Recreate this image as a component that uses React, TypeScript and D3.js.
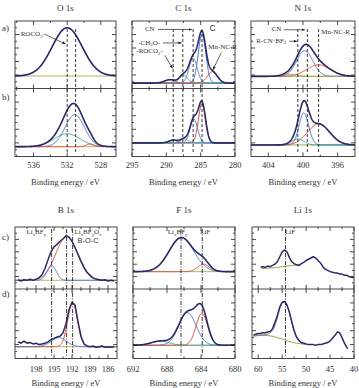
import * as d3 from "d3";

const NAVY = "#2b2a68";
const BLUE = "#4a72c4";
const STEEL = "#5b86c9";
const TEAL = "#3aa293";
const RED = "#e2452f";
const OLIVE = "#a6a43f";
const GREEN = "#7da23c";
const ORANGE = "#d98a3c";
const INK = "#333";

const SERIF = "'Liberation Serif', 'Times New Roman', serif";
const SANS = "'Liberation Sans', Arial, sans-serif";

// binding-energy axes
const oTicks = [536, 532, 528];
const cTicks = [295, 290, 285, 280];
const nTicks = [404, 400, 396];
const bTicks = [198, 195, 192, 189, 186];
const fTicks = [692, 688, 684, 680];
const liTicks = [60, 55, 50, 45, 40];

// reference energies (dashed / dash-dot guides)
const oRefs = [532.0, 531.0];
const cRefs = [289.0, 287.6, 286.1, 284.8];
const nRefs = [400.6, 399.5, 398.2];
const bRefs = [195.4, 192.9, 191.9];
const fRefs = [686.35, 683.85];
const liRefs = [54.3];

// fitted components: [centre / eV, height, FWHM / eV], heights in fractions of the sub-panel
const oaPeaks = [[532.0, 0.715, 4.2]];
const obPeaks = [[531.1, 0.47, 2.7], [532.0, 0.19, 3.6], [529.3, 0.04, 1.0]];
const caPeaks = [[284.8, 0.72, 1.3], [286.1, 0.37, 1.4], [287.5, 0.12, 1.4], [289.5, 0.05, 1.8], [283.3, 0.17, 1.7]];
const cbPeaks = [[284.8, 0.58, 1.2], [286.0, 0.35, 1.3], [287.4, 0.06, 1.3], [289.0, 0.04, 1.5]];
const naPeaks = [[399.8, 0.38, 2.2], [398.2, 0.17, 3.2], [401.5, 0.03, 2.0]];
const nbPeaks = [[399.9, 0.47, 1.3], [398.2, 0.31, 3.0], [400.6, 0.09, 1.6]];
const bcPeaks = [[192.9, 0.7, 4.3], [195.4, 0.24, 1.8]];
const bdPeaks = [[191.9, 0.63, 1.9], [194.2, 0.13, 3.0]];
const fcPeaks = [[686.3, 0.55, 3.4], [683.7, 0.12, 1.6]];
const fdPeaks = [[685.6, 0.47, 2.4], [683.9, 0.46, 1.6], [688.8, 0.06, 2.5]];

// Shirley-type backgrounds (flat levels)
const oaBase = 0.185;
const obBase = 0.145;
const caBase = 0.08;
const cbBase = 0.2;
const naBase = 0.18;
const nbBase = 0.17;
const bcBase = 0.14;
const bdBase = 0.17;
const fcBase = 0.28;
const fdBase = 0.19;

// measured spectra: [binding energy / eV, intensity]
const bcMeasured = [
  [201, 0.15], [200.5, 0.13], [200, 0.15], [199.5, 0.14], [199, 0.16], [198.5, 0.14], [198, 0.16],
  [197.5, 0.18], [197, 0.23], [196.5, 0.33], [196, 0.47], [195.5, 0.6], [195, 0.68], [194.5, 0.72],
  [194, 0.77], [193.5, 0.81], [193, 0.86], [192.5, 0.84], [192, 0.77], [191.5, 0.67], [191, 0.56],
  [190.5, 0.45], [190, 0.35], [189.5, 0.27], [189, 0.22], [188.5, 0.18], [188, 0.16], [187.5, 0.15],
  [187, 0.14], [186.5, 0.15], [186, 0.13], [185.5, 0.14], [185, 0.13],
];
const bdMeasured = [
  [201, 0.24], [200.5, 0.22], [200, 0.25], [199.5, 0.22], [199, 0.23], [198.5, 0.21], [198, 0.22],
  [197.5, 0.2], [197, 0.21], [196.5, 0.22], [196, 0.24], [195.5, 0.27], [195, 0.29], [194.5, 0.31],
  [194, 0.32], [193.5, 0.37], [193, 0.5], [192.5, 0.7], [192, 0.81], [191.5, 0.77], [191, 0.53],
  [190.5, 0.32], [190, 0.21], [189.5, 0.18], [189, 0.17], [188.5, 0.18], [188, 0.16], [187.5, 0.17],
  [187, 0.18], [186.5, 0.16], [186, 0.17], [185.5, 0.16], [185, 0.17],
];
const liCMeasured = [
  [59.5, 0.35], [59, 0.36], [58.5, 0.35], [58, 0.37], [57.5, 0.36], [57, 0.38], [56.5, 0.4], [56, 0.44],
  [55.5, 0.52], [55, 0.6], [54.5, 0.63], [54, 0.6], [53.5, 0.51], [53, 0.44], [52.5, 0.41], [52, 0.39],
  [51.5, 0.38], [51, 0.41], [50.5, 0.43], [50, 0.46], [49.5, 0.48], [49, 0.5], [48.5, 0.52], [48, 0.5],
  [47.5, 0.46], [47, 0.42], [46.5, 0.36], [46, 0.32], [45.5, 0.3], [45, 0.28], [44.5, 0.27], [44, 0.26],
  [43.5, 0.26], [43, 0.24], [42.5, 0.24], [42, 0.22], [41.5, 0.22], [41, 0.2], [40.5, 0.19], [40, 0.18],
];
const liCBackground = [
  [59.3, 0.33], [58, 0.335], [57, 0.34], [56, 0.35], [55, 0.36], [54, 0.37], [53, 0.38], [52, 0.385], [51.5, 0.39],
];
const liDMeasured = [
  [61, 0.34], [60.5, 0.35], [60, 0.36], [59.5, 0.36], [59, 0.37], [58.5, 0.37], [58, 0.38], [57.5, 0.39],
  [57, 0.43], [56.5, 0.52], [56, 0.62], [55.5, 0.74], [55, 0.81], [54.5, 0.82], [54, 0.77], [53.5, 0.67],
  [53, 0.53], [52.5, 0.4], [52, 0.31], [51.5, 0.26], [51, 0.23], [50.5, 0.22], [50, 0.21], [49.5, 0.2],
  [49, 0.2], [48.5, 0.2], [48, 0.19], [47.5, 0.2], [47, 0.2], [46.5, 0.21], [46, 0.22], [45.5, 0.23],
  [45, 0.25], [44.5, 0.29], [44, 0.33], [43.5, 0.38], [43, 0.37], [42.5, 0.3], [42, 0.22], [41.5, 0.16], [41.3, 0.14],
];
const liDFit = [
  [61, 0.32], [60, 0.33], [59, 0.34], [58, 0.35], [57.5, 0.37], [57, 0.4], [56.5, 0.47], [56, 0.58],
  [55.5, 0.72], [55, 0.8], [54.5, 0.82], [54, 0.77], [53.5, 0.66], [53, 0.52], [52.5, 0.39], [52, 0.3],
  [51.5, 0.25], [51, 0.22],
];
const liDBackground = [
  [61, 0.335], [60, 0.335], [59, 0.333], [58, 0.33], [57, 0.32], [56, 0.3], [55, 0.28], [54, 0.255],
  [53, 0.235], [52, 0.22], [51, 0.21], [50.2, 0.205],
];

type Part = string | [string];
type Note = { parts: Part[]; e: number; f: number; anchor?: string; sans?: boolean; size?: number };
type Arrow = number[];
type Sub = {
  base?: number;
  baseColor?: string;
  peaks?: number[][];
  colors?: string[];
  measured?: number[][];
  background?: number[][];
  fit?: number[][];
};
type Col = {
  id: string;
  title: string;
  left: number;
  right: number;
  domain: [number, number];
  ticks: number[];
  refs: number[];
  dash: string;
  top: Sub;
  bottom: Sub;
  notes?: Note[];
  arrows?: Arrow[];
};
type Row = {
  top: number; mid: number; bot: number; tickY: number; titleY: number; axisY: number;
  refTop: number; refBot: number; labels: [string, number][];
};

const rowTop: Row = {
  top: 21, mid: 88.5, bot: 156.5, tickY: 167.5, titleY: 11, axisY: 184.5, refTop: 29, refBot: 154,
  labels: [["a)", 31], ["b)", 100]],
};
const rowBottom: Row = {
  top: 227, mid: 289, bot: 358.5, tickY: 371.5, titleY: 213, axisY: 386, refTop: 229, refBot: 356,
  labels: [["c)", 240], ["d)", 297]],
};

const REF_DASH = "3,2";
const REF_DASHDOT = "4,1.5,1,1.5";

const topCols: Col[] = [
  {
    id: "o", title: "O 1s", left: 15, right: 116, domain: [538.2, 526.2], ticks: oTicks, refs: oRefs, dash: REF_DASH,
    top: { base: oaBase, baseColor: OLIVE, peaks: oaPeaks, colors: [BLUE] },
    bottom: { base: obBase, baseColor: ORANGE, peaks: obPeaks, colors: [BLUE, TEAL, RED] },
    notes: [{ parts: ["-ROCO", ["2"], "-"], e: 537.8, f: 0.775 }],
    arrows: [[534.6, 0.8, 532.2, 0.66]],
  },
  {
    id: "c", title: "C 1s", left: 132, right: 235, domain: [295, 280], ticks: cTicks, refs: cRefs, dash: REF_DASH,
    top: { base: caBase, baseColor: GREEN, peaks: caPeaks, colors: [BLUE, STEEL, TEAL, STEEL, RED] },
    bottom: { base: cbBase, baseColor: GREEN, peaks: cbPeaks, colors: [RED, BLUE, TEAL, STEEL] },
    notes: [
      { parts: ["CN"], e: 291.7, f: 0.85, anchor: "end" },
      { parts: ["C"], e: 283.7, f: 0.855, sans: true, size: 8.5 },
      { parts: ["-CH", ["2"], "O-"], e: 290.9, f: 0.65, anchor: "end" },
      { parts: ["-ROCO", ["2"], "-"], e: 290.5, f: 0.52, anchor: "end" },
      { parts: ["Mn-NC-R"], e: 283.9, f: 0.585 },
    ],
    arrows: [
      [291.2, 0.875, 286.3, 0.875],
      [290.5, 0.675, 287.8, 0.675],
      [290.2, 0.49, 289.1, 0.3],
      [282.0, 0.53, 283.2, 0.28],
    ],
  },
  {
    id: "n", title: "N 1s", left: 251, right: 355, domain: [406, 394], ticks: nTicks, refs: nRefs, dash: REF_DASH,
    top: { base: naBase, baseColor: GREEN, peaks: naPeaks, colors: [BLUE, RED, OLIVE] },
    bottom: { base: nbBase, baseColor: GREEN, peaks: nbPeaks, colors: [BLUE, RED, TEAL] },
    notes: [
      { parts: ["CN"], e: 402.5, f: 0.85, anchor: "end" },
      { parts: ["R-CN·BF", ["3"]], e: 405.4, f: 0.68 },
      { parts: ["Mn-NC-R"], e: 397.9, f: 0.81 },
    ],
    arrows: [
      [402.2, 0.87, 399.8, 0.87],
      [401.6, 0.7, 400.7, 0.7],
    ],
  },
];

const bottomCols: Col[] = [
  {
    id: "b", title: "B 1s", left: 15, right: 117, domain: [201.5, 184.5], ticks: bTicks, refs: bRefs, dash: REF_DASHDOT,
    top: { base: bcBase, baseColor: OLIVE, peaks: bcPeaks, colors: [RED, BLUE], measured: bcMeasured },
    bottom: { base: bdBase, baseColor: OLIVE, peaks: bdPeaks, colors: [RED, BLUE], measured: bdMeasured },
    notes: [
      { parts: ["Li", ["x"], "BF", ["y"]], e: 199.6, f: 0.89 },
      { parts: ["Li", ["x"], "BF", ["y"], "O", ["z"]], e: 191.6, f: 0.89 },
      { parts: ["B-O-C"], e: 191.1, f: 0.75, sans: true, size: 7.5 },
    ],
  },
  {
    id: "f", title: "F 1s", left: 133, right: 235, domain: [692, 680], ticks: fTicks, refs: fRefs, dash: REF_DASHDOT,
    top: { base: fcBase, baseColor: GREEN, peaks: fcPeaks, colors: [BLUE, RED] },
    bottom: { base: fdBase, baseColor: GREEN, peaks: fdPeaks, colors: [BLUE, RED, TEAL] },
    notes: [
      { parts: ["Li", ["x"], "BF", ["y"]], e: 687.9, f: 0.89 },
      { parts: ["LiF"], e: 684.1, f: 0.89 },
    ],
  },
  {
    id: "li", title: "Li 1s", left: 252, right: 354, domain: [61.3, 40], ticks: liTicks, refs: liRefs, dash: REF_DASHDOT,
    top: { measured: liCMeasured, background: liCBackground },
    bottom: { measured: liDMeasured, fit: liDFit, background: liDBackground },
    notes: [{ parts: ["LiF"], e: 54.4, f: 0.89 }],
  },
];

const FOUR_LN2 = 4 * Math.LN2;
const gauss = (e: number, p: number[]) => p[2] > 0 ? p[1] * Math.exp(-FOUR_LN2 * ((e - p[0]) / p[2]) ** 2) : 0;

function RichText({ parts, x, y, anchor = "start", family = SERIF, size = 7 }: any) {
  let low = false;
  return (
    <text x={x} y={y} textAnchor={anchor} fontFamily={family} fontSize={size} fill={INK}>
      {parts.map((p: Part, i: number) => {
        if (Array.isArray(p)) {
          const el = <tspan key={i} dy={low ? 0 : 1.8} fontSize={size * 0.7}>{p[0]}</tspan>;
          low = true;
          return el;
        }
        const el = <tspan key={i} dy={low ? -1.8 : 0}>{p}</tspan>;
        low = false;
        return el;
      })}
    </text>
  );
}

function minorTicks(ticks: number[], domain: [number, number]) {
  const step = ticks[1] - ticks[0];
  const lo = Math.min(...domain);
  const hi = Math.max(...domain);
  const out: number[] = [];
  for (let k = -6; k <= ticks.length * 2 + 6; k++) {
    const v = ticks[0] + (k * step) / 2;
    if (k % 2 !== 0 && v > lo + 0.05 && v < hi - 0.05) out.push(v);
  }
  return out;
}

function SubPlot({ sub, x, y, domain, clip }: any) {
  const line = d3.line<number[]>().x((d) => x(d[0])).y((d) => y(d[1]));
  const n = 400;
  const grid = d3.range(n + 1).map((i) => domain[0] + ((domain[1] - domain[0]) * i) / n);
  const base = sub.base ?? 0;
  const peaks: number[][] = sub.peaks ?? [];
  const envelope = grid.map((e) => [e, base + d3.sum(peaks, (p) => gauss(e, p))]);
  return (
    <g clipPath={`url(#${clip})`} fill="none" strokeLinejoin="round">
      {sub.baseColor && (
        <path d={line(grid.map((e) => [e, base])) ?? ""} stroke={sub.baseColor} strokeWidth={1} />
      )}
      {sub.background && <path d={line(sub.background) ?? ""} stroke={OLIVE} strokeWidth={1} />}
      {peaks.map((p, i) => (
        <path key={i} d={line(grid.map((e) => [e, base + gauss(e, p)])) ?? ""} stroke={sub.colors[i]} strokeWidth={1} />
      ))}
      {sub.fit && <path d={line(sub.fit) ?? ""} stroke="#6a6a9e" strokeWidth={0.8} />}
      {sub.measured ? (
        <path d={line(sub.measured) ?? ""} stroke={NAVY} strokeWidth={1.5} />
      ) : (
        peaks.length > 0 && <path d={line(envelope) ?? ""} stroke={NAVY} strokeWidth={1.6} />
      )}
    </g>
  );
}

function Column({ col, row }: { col: Col; row: Row }) {
  const x = d3.scaleLinear().domain(col.domain).range([col.left, col.right]);
  const yTop = d3.scaleLinear().domain([0, 1]).range([row.mid, row.top]);
  const yBot = d3.scaleLinear().domain([0, 1]).range([row.bot, row.mid]);
  const minors = minorTicks(col.ticks, col.domain);
  const yTicks = d3.range(1, 10).map((k) => k / 10);
  const edges: [number, number][] = [[row.top, 1], [row.mid, -1], [row.mid, 1], [row.bot, -1]];
  const cx = (col.left + col.right) / 2;
  return (
    <g>
      <defs>
        <clipPath id={`${col.id}-a`}>
          <rect x={col.left} y={row.top} width={col.right - col.left} height={row.mid - row.top} />
        </clipPath>
        <clipPath id={`${col.id}-b`}>
          <rect x={col.left} y={row.mid} width={col.right - col.left} height={row.bot - row.mid} />
        </clipPath>
      </defs>
      <text x={cx} y={row.titleY} textAnchor="middle" fontFamily={SERIF} fontSize={9} fill={INK}>{col.title}</text>

      <SubPlot sub={col.top} x={x} y={yTop} domain={col.domain} clip={`${col.id}-a`} />
      <SubPlot sub={col.bottom} x={x} y={yBot} domain={col.domain} clip={`${col.id}-b`} />

      {/* guide lines at reference binding energies */}
      {col.refs.map((e) => (
        <line key={e} x1={x(e)} x2={x(e)} y1={row.refTop} y2={row.refBot} stroke="#222" strokeWidth={0.9} strokeDasharray={col.dash} />
      ))}

      {/* frame and ticks */}
      <g stroke={INK} strokeWidth={0.9}>
        <rect x={col.left} y={row.top} width={col.right - col.left} height={row.bot - row.top} fill="none" />
        <line x1={col.left} x2={col.right} y1={row.mid} y2={row.mid} />
        {edges.map(([yy, dir], j) => (
          <g key={j}>
            {col.ticks.map((t) => <line key={t} x1={x(t)} x2={x(t)} y1={yy} y2={yy + dir * 4} />)}
            {minors.map((t) => <line key={t} x1={x(t)} x2={x(t)} y1={yy} y2={yy + dir * 2} />)}
          </g>
        ))}
        {[yTop, yBot].map((y, j) => (
          <g key={j}>
            {yTicks.map((f, k) => {
              const len = k % 2 === 1 ? 4 : 2;
              return (
                <g key={f}>
                  <line x1={col.left} x2={col.left + len} y1={y(f)} y2={y(f)} />
                  <line x1={col.right} x2={col.right - len} y1={y(f)} y2={y(f)} />
                </g>
              );
            })}
          </g>
        ))}
      </g>

      {col.ticks.map((t) => (
        <text key={t} x={x(t)} y={row.tickY} textAnchor="middle" fontFamily={SERIF} fontSize={8.5} fill={INK}>{t}</text>
      ))}
      <text x={cx} y={row.axisY} textAnchor="middle" fontFamily={SERIF} fontSize={8.5} fill={INK}>Binding energy / eV</text>

      {(col.notes ?? []).map((n, i) => (
        <RichText key={i} parts={n.parts} x={x(n.e)} y={yTop(n.f)} anchor={n.anchor ?? "start"} family={n.sans ? SANS : SERIF} size={n.size ?? 7} />
      ))}
      {(col.arrows ?? []).map((a, i) => (
        <line key={i} x1={x(a[0])} y1={yTop(a[1])} x2={x(a[2])} y2={yTop(a[3])} stroke="#222" strokeWidth={0.7} markerEnd="url(#arrowhead)" />
      ))}
    </g>
  );
}

export default function App() {
  return (
    <svg width={359} height={388} viewBox="0 0 359 388" style={{ display: "block", position: "absolute", left: 0, top: 0, background: "#fff" }}>
      <defs>
        <marker id="arrowhead" viewBox="0 0 10 10" refX="9" refY="5" markerWidth="5" markerHeight="5" orient="auto">
          <path d="M0,1 L10,5 L0,9 z" fill="#222" />
        </marker>
      </defs>
      <rect width={359} height={388} fill="#fff" />
      {[rowTop, rowBottom].map((row) =>
        row.labels.map(([t, yy]) => (
          <text key={t} x={2} y={yy} fontFamily={SERIF} fontSize={9} fill={INK}>{t}</text>
        ))
      )}
      {topCols.map((c) => <Column key={c.id} col={c} row={rowTop} />)}
      {bottomCols.map((c) => <Column key={c.id} col={c} row={rowBottom} />)}
    </svg>
  );
}
